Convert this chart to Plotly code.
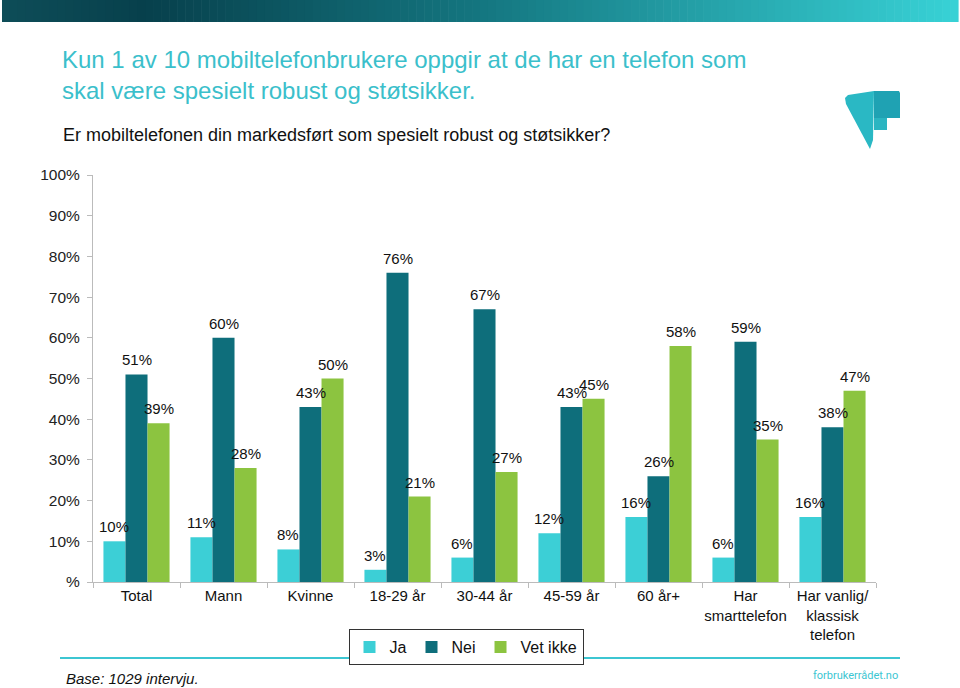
import plotly.graph_objects as go

categories = ["Total", "Mann", "Kvinne", "18-29 år", "30-44 år", "45-59 år", "60 år+",
              "Har<br>smarttelefon", "Har vanlig/<br>klassisk<br>telefon"]
ja = [10, 11, 8, 3, 6, 12, 16, 6, 16]
nei = [51, 60, 43, 76, 67, 43, 26, 59, 38]
vet_ikke = [39, 28, 50, 21, 27, 45, 58, 35, 47]
series_names = ["Ja", "Nei", "Vet ikke"]
colors = ["#3ccfd6", "#0e6e7b", "#8cc440"]
ytick_vals = list(range(0, 101, 10))
ytick_text = ["%"] + [f"{v}%" for v in ytick_vals[1:]]

W, H = 960, 688
L, R, T, B = 93, 876, 175, 582

def px(x):
    return (x - L) / (R - L)

def py(y):
    return (B - y) / (B - T)

fig = go.Figure()
for name, vals, col in zip(series_names, [ja, nei, vet_ikke], colors):
    fig.add_trace(go.Bar(
        x=categories, y=vals, name=name, marker_color=col, marker_line_width=0,
        hoverinfo="x+y+name",
    ))

annotations = []
# data labels, placed via the axes at each bar's value
bar_px = (R - L) / len(categories) * 0.76 / 3
for si, vals in enumerate([ja, nei, vet_ikke]):
    for cat, v in zip(categories, vals):
        annotations.append(dict(
            x=cat, y=v, xref="x", yref="y", text=f"{v}%", showarrow=False,
            xanchor="center", yanchor="bottom", xshift=(si - 1) * bar_px, yshift=4,
            font=dict(family="Arial, Liberation Sans", size=15, color="#111")))

shapes = []
# gradient banner
stops = [(0.0, (14, 77, 88)), (0.15, (7, 64, 76)), (0.5, (20, 118, 128)), (1.0, (56, 210, 214))]
def grad(t):
    for (t0, c0), (t1, c1) in zip(stops[:-1], stops[1:]):
        if t <= t1:
            f = (t - t0) / (t1 - t0)
            return tuple(int(round(a + (b - a) * f)) for a, b in zip(c0, c1))
    return stops[-1][1]
n = 120
x0, x1 = 2, 958
for i in range(n):
    a = x0 + (x1 - x0) * i / n
    b = x0 + (x1 - x0) * (i + 1) / n + 0.6
    c = grad((i + 0.5) / n)
    shapes.append(dict(type="rect", xref="paper", yref="paper", x0=px(a), x1=px(b),
                       y0=py(22), y1=py(0), fillcolor=f"rgb{c}", line_width=0, layer="below"))
# bottom line
shapes.append(dict(type="line", xref="paper", yref="paper", x0=px(60), x1=px(900),
                   y0=py(658), y1=py(658), line=dict(color="#3cc6d2", width=2)))
# logo
def path(pts):
    return "M " + " L ".join(f"{px(x)},{py(y)}" for x, y in pts) + " Z"
shapes.append(dict(type="path", xref="paper", yref="paper",
                   path=path([(845, 98), (848, 95), (874, 91), (873, 140), (870, 149), (846, 104)]),
                   fillcolor="#2ab8c4", line_width=0))
shapes.append(dict(type="path", xref="paper", yref="paper",
                   path=path([(874, 91), (899, 91), (900, 93), (900, 118), (887, 118), (887, 130), (874, 130)]),
                   fillcolor="#1fa2b3", line_width=0))
shapes.append(dict(type="path", xref="paper", yref="paper",
                   path=path([(874, 118), (887, 118), (887, 130), (874, 130)]),
                   fillcolor="#2bb5c1", line_width=0))

annotations += [
    dict(text="Kun 1 av 10 mobiltelefonbrukere oppgir at de har en telefon som<br>skal være spesielt robust og støtsikker.",
         xref="paper", yref="paper", x=px(60), y=py(44), xanchor="left", yanchor="top", align="left",
         showarrow=False, font=dict(family="Arial, Liberation Sans", size=24, color="#3bbfcb")),
    dict(text="Er mobiltelefonen din markedsført som spesielt robust og støtsikker?",
         xref="paper", yref="paper", x=px(61), y=py(135), xanchor="left", yanchor="middle",
         showarrow=False, font=dict(family="Arial, Liberation Sans", size=18, color="#111")),
    dict(text="<i>Base: 1029 intervju.</i>",
         xref="paper", yref="paper", x=px(64), y=py(678), xanchor="left", yanchor="middle",
         showarrow=False, font=dict(family="Arial, Liberation Sans", size=15, color="#111")),
    dict(text="forbrukerrådet.no",
         xref="paper", yref="paper", x=px(900), y=py(675), xanchor="right", yanchor="middle",
         showarrow=False, font=dict(family="Roboto, Arial", size=11, color="#3cc6d2")),
]

fig.update_layout(
    width=W, height=H,
    margin=dict(l=L, r=W - R, t=T, b=H - B, pad=0),
    paper_bgcolor="white", plot_bgcolor="white",
    barmode="group", bargap=0.24, bargroupgap=0,
    font=dict(family="Arial, Liberation Sans", size=15, color="#111"),
    showlegend=True,
    legend=dict(orientation="h", x=px(466), y=py(629), xanchor="center", yanchor="top",
                bordercolor="#333", borderwidth=1, bgcolor="white",
                font=dict(size=16, color="#111"), itemwidth=30, tracegroupgap=0),
    shapes=shapes, annotations=annotations,
    yaxis=dict(range=[0, 100], tickvals=ytick_vals, ticktext=ytick_text, showgrid=False,
               showline=True, linecolor="#bbb", linewidth=1, ticks="outside", ticklen=5,
               tickcolor="#bbb", tickfont=dict(size=15.5, color="#222"), zeroline=False,
               fixedrange=True, ticklabelstandoff=4),
    xaxis=dict(showline=True, linecolor="#bbb", linewidth=1, ticks="outside", ticklen=5,
               tickcolor="#bbb", tickson="boundaries", tickfont=dict(size=15, color="#111"),
               tickangle=0, fixedrange=True),
)

fig.write_html("out.html", config={"displayModeBar": False},
               post_script="document.body.style.margin='0';document.body.style.overflow='hidden';")
